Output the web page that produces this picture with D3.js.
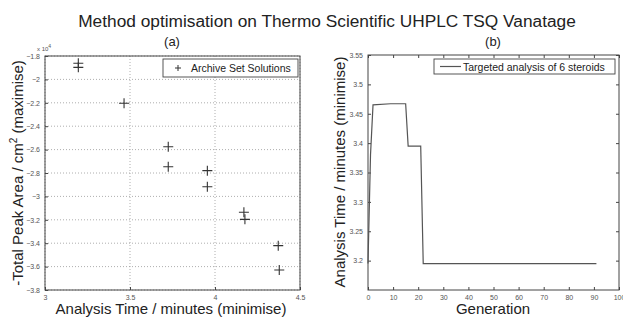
<!DOCTYPE html>
<html>
<head>
<meta charset="utf-8">
<script src="https://cdn.jsdelivr.net/npm/d3@7"></script>
<style>
  body { margin: 0; background: #fff; }
  text { font-family: "Liberation Sans", Arial, sans-serif; }
</style>
</head>
<body>
<script>
// data
var archiveTime = [3.196, 3.196, 3.465, 3.725, 3.725, 3.955, 3.955, 4.17, 4.176, 4.372, 4.378];
var archiveArea = [-1.862, -1.897, -2.204, -2.575, -2.746, -2.78, -2.917, -3.136, -3.196, -3.421, -3.629]; // x 10^4
var generation = [0, 1, 2, 9, 15, 16, 21, 22, 91];
var bestTime = [3.195, 3.38, 3.465, 3.467, 3.467, 3.395, 3.395, 3.195, 3.195];
var leftXTicks = [3, 3.5, 4, 4.5];
var leftYTicks = [-1.8, -2, -2.2, -2.4, -2.6, -2.8, -3, -3.2, -3.4, -3.6, -3.8];
var rightXTicks = [0, 10, 20, 30, 40, 50, 60, 70, 80, 90, 100];
var rightYTicks = [3.2, 3.25, 3.3, 3.35, 3.4, 3.45, 3.5, 3.55];

var W = 623, H = 317;
var svg = d3.select("body").append("svg")
    .attr("width", W)
    .attr("height", H);

var axisCol = "#444", tickFont = "7px";
var fontFam = "Liberation Sans, Arial, sans-serif";

// title
svg.append("text")
    .attr("x", 327).attr("y", 27)
    .attr("text-anchor", "middle")
    .style("font-size", "17.3px").style("fill", "#222")
    .text("Method optimisation on Thermo Scientific UHPLC TSQ Vanatage");

// ---- panel (a)
var ax = {left: 45, right: 300, top: 56, bottom: 290};
var xA = d3.scaleLinear().domain([3, 4.5]).range([ax.left, ax.right]);
var yA = d3.scaleLinear().domain([-3.8, -1.8]).range([ax.bottom, ax.top]);

var gA = svg.append("g");

// dotted grid
gA.selectAll(".gx").data(leftXTicks).enter().append("line")
    .attr("x1", xA).attr("x2", xA)
    .attr("y1", ax.top).attr("y2", ax.bottom)
    .attr("stroke", "#999").attr("stroke-width", 0.8).attr("stroke-dasharray", "1,2");
gA.selectAll(".gy").data(leftYTicks).enter().append("line")
    .attr("x1", ax.left).attr("x2", ax.right)
    .attr("y1", yA).attr("y2", yA)
    .attr("stroke", "#999").attr("stroke-width", 0.8).attr("stroke-dasharray", "1,2");

function box(g, a) {
    g.append("rect")
        .attr("x", a.left).attr("y", a.top)
        .attr("width", a.right - a.left).attr("height", a.bottom - a.top)
        .attr("fill", "none").attr("stroke", axisCol).attr("stroke-width", 1);
}
box(gA, ax);

function styleAxis(a) {
    a.select(".domain").remove();
    a.selectAll("line").attr("stroke", axisCol);
    a.selectAll("text").style("font-size", tickFont).style("fill", "#555").style("font-family", fontFam);
}

var axBottomA = gA.append("g").attr("transform", "translate(0," + ax.bottom + ")")
    .call(d3.axisBottom(xA).tickValues(leftXTicks).tickSizeInner(-3).tickSizeOuter(0).tickPadding(5).tickFormat(d3.format("")));
var axLeftA = gA.append("g").attr("transform", "translate(" + ax.left + ",0)")
    .call(d3.axisLeft(yA).tickValues(leftYTicks).tickSizeInner(-3).tickSizeOuter(0).tickPadding(5).tickFormat(d3.format("")));
styleAxis(axBottomA);
styleAxis(axLeftA);

// exponent label
var expo = gA.append("text").attr("x", 37).attr("y", 51)
    .style("font-size", "6px").style("fill", "#555");
expo.append("tspan").text("x 10");
expo.append("tspan").attr("dy", -3).style("font-size", "5px").text("4");

// points
var pts = archiveTime.map(function(t, i) { return [t, archiveArea[i]]; });
gA.selectAll(".pt").data(pts).enter().append("path")
    .attr("transform", function(d) { return "translate(" + xA(d[0]) + "," + yA(d[1]) + ")"; })
    .attr("d", "M-5,0H5M0,-5V5")
    .attr("stroke", "#333").attr("stroke-width", 1.1);

// legend (a)
gA.append("rect").attr("x", 163).attr("y", 59).attr("width", 135).attr("height", 18)
    .attr("fill", "#fff").attr("stroke", axisCol).attr("stroke-width", 0.9);
gA.append("path").attr("transform", "translate(178,68)")
    .attr("d", "M-3,0H3M0,-3V3").attr("stroke", "#333").attr("stroke-width", 1);
gA.append("text").attr("x", 191).attr("y", 72)
    .style("font-size", "10.5px").style("fill", "#222").text("Archive Set Solutions");

gA.append("text").attr("x", 172).attr("y", 46).attr("text-anchor", "middle")
    .style("font-size", "13px").style("fill", "#222").text("(a)");

gA.append("text").attr("x", 171).attr("y", 314).attr("text-anchor", "middle")
    .style("font-size", "15px").style("fill", "#222").text("Analysis Time / minutes (minimise)");

var ylA = gA.append("text").attr("transform", "translate(23,173) rotate(-90)")
    .attr("text-anchor", "middle").style("font-size", "15px").style("fill", "#222");
ylA.append("tspan").text("-Total Peak Area / cm");
ylA.append("tspan").attr("dy", -6).style("font-size", "10px").text("2");
ylA.append("tspan").attr("dy", 6).text(" (maximise)");

// ---- panel (b)
var bx = {left: 368, right: 619, top: 55, bottom: 290};
var xB = d3.scaleLinear().domain([0, 100]).range([bx.left, bx.right]);
var yB = d3.scaleLinear().domain([3.15, 3.55]).range([bx.bottom, bx.top]);

var gB = svg.append("g");
box(gB, bx);

var axes = [
    gB.append("g").attr("transform", "translate(0," + bx.bottom + ")")
      .call(d3.axisBottom(xB).tickValues(rightXTicks).tickSizeInner(-3).tickSizeOuter(0).tickPadding(5).tickFormat(d3.format(""))),
    gB.append("g").attr("transform", "translate(0," + bx.top + ")")
      .call(d3.axisTop(xB).tickValues(rightXTicks).tickSizeInner(-3).tickSizeOuter(0).tickFormat("")),
    gB.append("g").attr("transform", "translate(" + bx.left + ",0)")
      .call(d3.axisLeft(yB).tickValues(rightYTicks).tickSizeInner(-3).tickSizeOuter(0).tickPadding(5).tickFormat(d3.format(""))),
    gB.append("g").attr("transform", "translate(" + bx.right + ",0)")
      .call(d3.axisRight(yB).tickValues(rightYTicks).tickSizeInner(-3).tickSizeOuter(0).tickFormat(""))
];
axes.forEach(styleAxis);

var line = d3.line()
    .x(function(d) { return xB(d[0]); })
    .y(function(d) { return yB(d[1]); });
gB.append("path")
    .datum(generation.map(function(g, i) { return [g, bestTime[i]]; }))
    .attr("d", line)
    .attr("fill", "none").attr("stroke", "#555").attr("stroke-width", 1.2);

// legend (b)
gB.append("rect").attr("x", 434).attr("y", 59).attr("width", 181).attr("height", 15)
    .attr("fill", "#fff").attr("stroke", axisCol).attr("stroke-width", 0.9);
gB.append("line").attr("x1", 440).attr("x2", 461).attr("y1", 66.5).attr("y2", 66.5)
    .attr("stroke", "#555").attr("stroke-width", 1.2);
gB.append("text").attr("x", 463).attr("y", 70.5)
    .style("font-size", "10.5px").style("fill", "#222").text("Targeted analysis of 6 steroids");

gB.append("text").attr("x", 493).attr("y", 46).attr("text-anchor", "middle")
    .style("font-size", "13px").style("fill", "#222").text("(b)");

gB.append("text").attr("x", 493).attr("y", 314).attr("text-anchor", "middle")
    .style("font-size", "15px").style("fill", "#222").text("Generation");

gB.append("text").attr("transform", "translate(345,172) rotate(-90)")
    .attr("text-anchor", "middle").style("font-size", "15px").style("fill", "#222")
    .text("Analysis Time / minutes (minimise)");
</script>
</body>
</html>
